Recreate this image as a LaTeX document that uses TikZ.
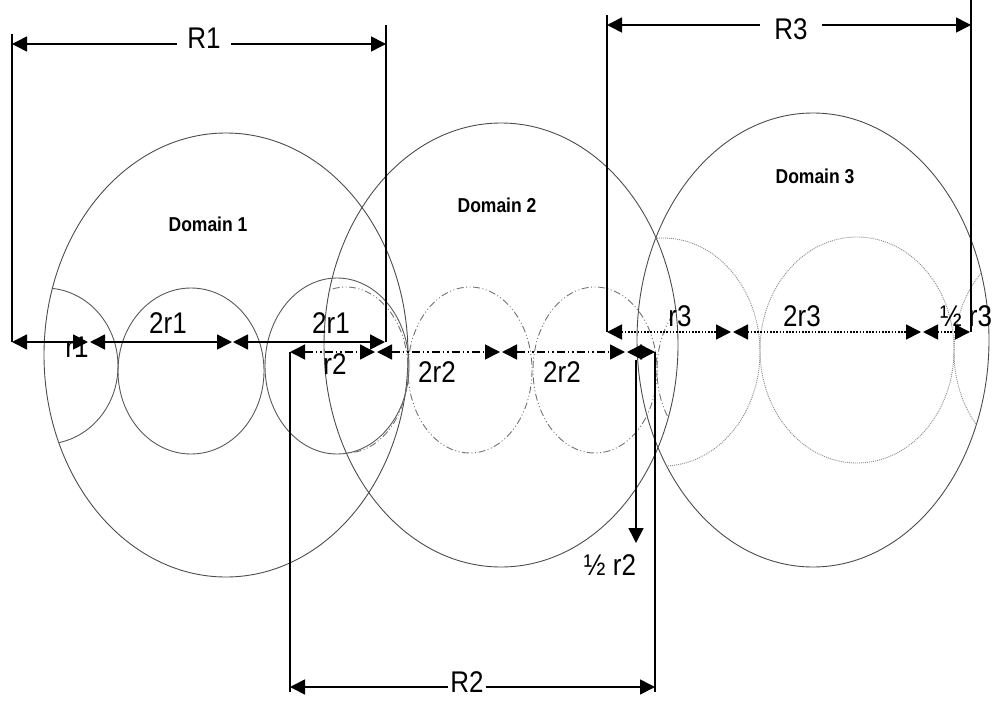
\documentclass[tikz,border=0pt]{standalone}
\usepackage{fontspec}
\setmainfont{Liberation Sans}
\usepackage{graphicx}
\usetikzlibrary{arrows.meta}

\newcommand{\tall}[1]{\scalebox{1}[1.15]{#1}}

\begin{document}
\begin{tikzpicture}[x=1pt,y=-1pt,
        dombound/.style={draw=black!70, line width=0.9pt},
        cellone/.style={draw=black!65, line width=0.9pt},
        celltwo/.style={draw=black!55, line width=0.9pt,
            dash pattern=on 7pt off 2.5pt on 1pt off 2.5pt on 1pt off 2.5pt},
        cellthree/.style={draw=black!45, line width=0.9pt, dash pattern=on 1pt off 1pt},
        ext/.style={line width=1.6pt},
        dim/.style={line width=1.6pt,
            {Triangle[length=15pt,width=15pt]}-{Triangle[length=15pt,width=15pt]}},
        dimtwo/.style={dim, dash pattern=on 8pt off 3pt on 1.5pt off 3pt on 1.5pt off 3pt},
        dimthree/.style={dim, dash pattern=on 1.6pt off 1.6pt},
        lbl/.style={font=\fontsize{26}{28}\selectfont, inner sep=0pt},
        dname/.style={font=\fontsize{17.5}{20}\selectfont\bfseries, inner sep=0pt}]
    \useasboundingbox (0,0) rectangle (992,701);

    % the three domains
    \draw[dombound] (226,355) ellipse [x radius=182, y radius=222];
    \draw[dombound] (501,345) ellipse [x radius=177, y radius=222];
    \draw[dombound] (813,340) ellipse [x radius=176, y radius=227];

    % cells of domain 1
    \begin{scope}
        \clip (226,355) ellipse [x radius=182, y radius=222];
        \draw[cellone] (45,366) ellipse [x radius=73, y radius=78];
    \end{scope}
    \draw[cellone] (191,371) ellipse [x radius=73, y radius=83];
    \draw[cellone] (337,366) ellipse [x radius=72, y radius=88];

    % cells of domain 2
    \begin{scope}
        \clip (501,345) ellipse [x radius=177, y radius=222];
        \foreach \x in {346,719}
            \draw[celltwo] (\x,370) ellipse [x radius=62, y radius=83];
    \end{scope}
    \foreach \x in {470,595}
        \draw[celltwo] (\x,370) ellipse [x radius=62, y radius=83];

    % cells of domain 3
    \begin{scope}
        \clip (813,340) ellipse [x radius=176, y radius=227];
        \foreach \x in {663,1051}
            \draw[cellthree] (\x,352) ellipse [x radius=97, y radius=114];
    \end{scope}
    \draw[cellthree] (857,350) ellipse [x radius=97, y radius=113];

    \node[dname] (dom1) at (208,224) {\tall{Domain 1}};
    \node[dname] (dom2) at (497,205) {\tall{Domain 2}};
    \node[dname] (dom3) at (815,176) {\tall{Domain 3}};

    % R1 and the r1 row
    \draw[ext] (12,34) -- (12,342);
    \draw[ext] (386,25) -- (386,342);
    \draw[dim] (12,44) -- (386,44);
    \node[lbl, fill=white, inner xsep=10pt] (R1) at (204,38) {\tall{R1}};
    \foreach \a/\b in {12/88, 90/232, 233/385}
        \draw[dim] (\a,342) -- (\b,342);
    \node[lbl] (r1) at (77,347) {\tall{r1}};
    \node[lbl] (r1a) at (168,323) {\tall{2r1}};
    \node[lbl] (r1b) at (331,323) {\tall{2r1}};

    % R2 and the r2 row
    \draw[ext] (290,352) -- (290,692);
    \draw[ext] (655,352) -- (655,692);
    \draw[dim] (290,687) -- (655,687);
    \node[lbl, fill=white, inner xsep=2pt] (R2) at (467,682) {\tall{R2}};
    \foreach \a/\b in {290/375, 377/500, 502/625}
        \draw[dimtwo] (\a,352) -- (\b,352);
    \draw[dim] (627,352) -- (655,352);
    \draw[line width=1.6pt, -{Triangle[length=15pt,width=15pt]}] (636,360) -- (636,543);
    \node[lbl] (r2) at (335,364) {\tall{r2}};
    \node[lbl] (r2a) at (437,372) {\tall{2r2}};
    \node[lbl] (r2b) at (562,372) {\tall{2r2}};
    \node[lbl] (r2h) at (610,565) {\tall{½ r2}};

    % R3 and the r3 row
    \draw[ext] (607,15) -- (607,332);
    \draw[ext] (971,0) -- (971,332);
    \draw[dim] (607,25) -- (971,25);
    \node[lbl, fill=white, inner xsep=14pt] (R3) at (791,29) {\tall{R3}};
    \foreach \a/\b in {607/731, 733/921, 923/970}
        \draw[dimthree] (\a,332) -- (\b,332);
    \node[lbl] (r3) at (680,316) {\tall{r3}};
    \node[lbl] (r3a) at (802,316) {\tall{2r3}};
    \node[lbl] (r3h) at (966,316) {\tall{½ r3}};
\end{tikzpicture}
\end{document}
